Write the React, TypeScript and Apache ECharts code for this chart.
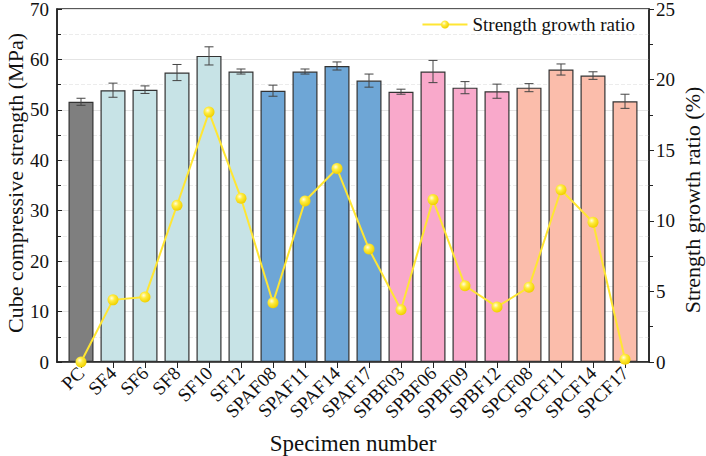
import React, { useEffect, useRef } from "react";
import * as echarts from "echarts";

const categories = ["PC","SF4","SF6","SF8","SF10","SF12","SPAF08","SPAF11","SPAF14","SPAF17","SPBF03","SPBF06","SPBF09","SPBF12","SPCF08","SPCF11","SPCF14","SPCF17"];
const strength = [51.6,53.9,54.0,57.4,60.7,57.6,53.8,57.6,58.7,55.8,53.6,57.6,54.4,53.7,54.4,58.0,56.8,51.7];
const strengthErr = [0.7,1.4,0.75,1.6,1.8,0.5,1.1,0.5,0.8,1.3,0.5,2.2,1.2,1.4,0.8,1.1,0.75,1.4];
const growthRatio = [0,4.4,4.6,11.1,17.7,11.6,4.2,11.4,13.7,8.0,3.7,11.5,5.4,3.9,5.3,12.2,9.9,0.2];
const groupColors = ["#7f7f7f","#c7e3e6","#c7e3e6","#c7e3e6","#c7e3e6","#c7e3e6","#6ea6d6","#6ea6d6","#6ea6d6","#6ea6d6","#f9a9cb","#f9a9cb","#f9a9cb","#f9a9cb","#fbbdab","#fbbdab","#fbbdab","#fbbdab"];

const FONT = "Liberation Serif";

export default function App() {
  const ref = useRef<HTMLDivElement>(null);
  useEffect(() => {
    if (!ref.current) return;
    const chart = echarts.init(ref.current, null, { renderer: "svg" });
    const idx = categories.map((_, i) => i);
    const errData = strength.map((v, i) => [i, v - strengthErr[i], v + strengthErr[i]]);
    chart.setOption({
      animation: false,
      textStyle: { fontFamily: FONT },
      grid: { left: 57, right: 57, top: 9, bottom: 94, containLabel: false, outerBoundsMode: "none", show: true, borderColor: "#222", borderWidth: 1.5, backgroundColor: "transparent" },
      legend: {
        right: 66, top: 10,
        itemWidth: 45, itemHeight: 10, itemGap: 6,
        textStyle: { fontFamily: FONT, fontSize: 19, color: "#111" },
        data: ["Strength growth ratio"],
      },
      graphic: [
        {
          type: "text",
          x: 15, y: 183,
          rotation: Math.PI / 2,
          style: { text: "Cube compressive strength (MPa)", font: `22px "${FONT}"`, fill: "#111", align: "center", verticalAlign: "middle" },
        },
        {
          type: "text",
          x: 692, y: 200,
          rotation: Math.PI / 2,
          style: { text: "Strength growth ratio (%)", font: `22px "${FONT}"`, fill: "#111", align: "center", verticalAlign: "middle" },
        },
      ],
      xAxis: {
        type: "value",
        min: -0.75, max: 17.75,
        name: "Specimen number",
        nameLocation: "middle",
        nameGap: 70,
        nameTextStyle: { fontFamily: FONT, fontSize: 23, color: "#111" },
        axisLine: { onZero: false, lineStyle: { color: "#222", width: 1.5 } },
        axisTick: { show: true, customValues: idx, length: 6, lineStyle: { color: "#222" } },
        axisLabel: {
          customValues: idx,
          rotate: 45, fontFamily: FONT, fontSize: 19, color: "#111", margin: 8,
          formatter: (v: number) => categories[Math.round(v)] ?? "",
        },
        splitLine: { show: false },
      },
      yAxis: [
        {
          type: "value", min: 0, max: 70, interval: 10,
          axisLine: { show: true, onZero: false, lineStyle: { color: "#222", width: 1.5 } },
          axisTick: { show: true, inside: true, length: 5, lineStyle: { color: "#222" } },
          minorTick: { show: true, splitNumber: 2, length: 4, lineStyle: { color: "#222" } },
          axisLabel: { fontFamily: FONT, fontSize: 19, color: "#111", margin: 8 },
          splitLine: { show: true, lineStyle: { color: "#e4e4e4", width: 1 } },
          minorSplitLine: { show: true, lineStyle: { color: "#ececec", type: "dashed" } },
        },
        {
          type: "value", min: 0, max: 25, interval: 5,
          axisLine: { show: true, onZero: false, lineStyle: { color: "#222", width: 1.5 } },
          axisTick: { show: true, inside: false, length: 5, lineStyle: { color: "#222" } },
          minorTick: { show: true, splitNumber: 2, length: 4, lineStyle: { color: "#222" } },
          axisLabel: { fontFamily: FONT, fontSize: 19, color: "#111", margin: 7 },
          splitLine: { show: false },
        },
      ],
      series: [
        {
          type: "bar",
          name: "Strength",
          data: strength.map((v, i) => ({ value: [i, v], itemStyle: { color: groupColors[i] } })),
          barWidth: 25,
          itemStyle: { borderColor: "#333", borderWidth: 1.2 },
          z: 2,
        },
        {
          type: "custom",
          name: "err",
          data: errData,
          z: 4,
          renderItem: (params: any, api: any) => {
            const x = api.value(0);
            const lo = api.coord([x, api.value(1)]);
            const hi = api.coord([x, api.value(2)]);
            const cap = 4.5;
            const st = { stroke: "#444", lineWidth: 1 };
            return {
              type: "group",
              children: [
                { type: "line", shape: { x1: lo[0], y1: lo[1], x2: hi[0], y2: hi[1] }, style: st },
                { type: "line", shape: { x1: lo[0] - cap, y1: lo[1], x2: lo[0] + cap, y2: lo[1] }, style: st },
                { type: "line", shape: { x1: hi[0] - cap, y1: hi[1], x2: hi[0] + cap, y2: hi[1] }, style: st },
              ],
            };
          },
        },
        {
          type: "line",
          name: "Strength growth ratio",
          yAxisIndex: 1,
          data: growthRatio.map((r, i) => [i, r]),
          symbol: "circle",
          symbolSize: 11,
          z: 5,
          lineStyle: { color: "#ffe633", width: 2 },
          itemStyle: {
            color: {
              type: "radial", x: 0.38, y: 0.35, r: 0.65,
              colorStops: [
                { offset: 0, color: "#fffbe0" },
                { offset: 0.4, color: "#ffec40" },
                { offset: 1, color: "#f0d000" },
              ],
            },
            borderWidth: 0,
          },
        },
      ],
    });
    return () => chart.dispose();
  }, []);
  return <div ref={ref} style={{ width: 706, height: 456, position: "absolute", left: 0, top: 0, background: "#fff" }} />;
}
